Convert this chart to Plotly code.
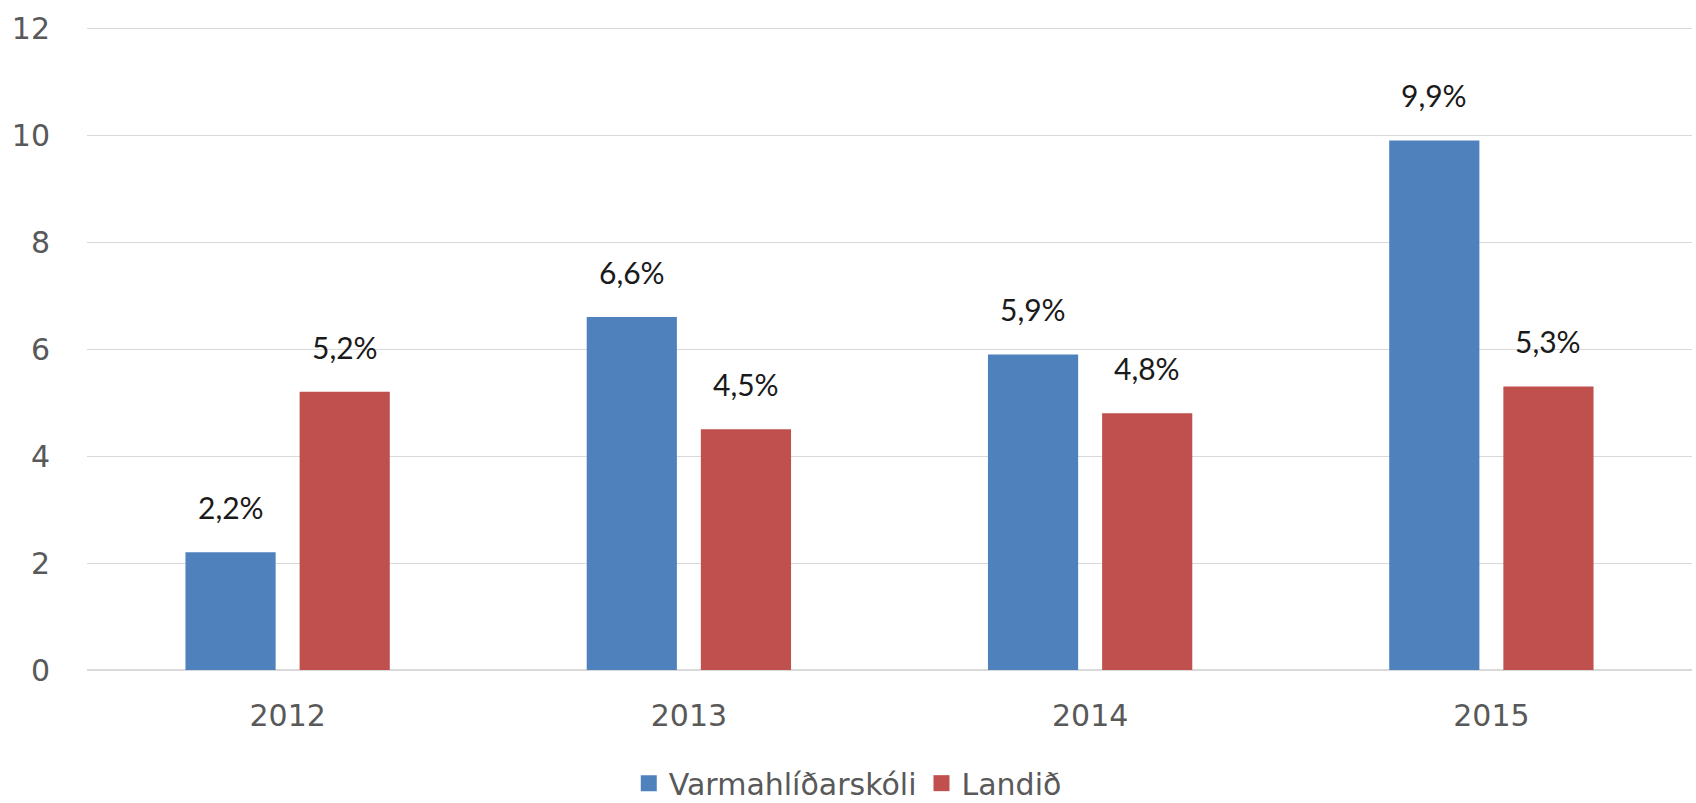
import plotly.graph_objects as go

years = ["2012", "2013", "2014", "2015"]
varmahlid = [2.2, 6.6, 5.9, 9.9]
landid = [5.2, 4.5, 4.8, 5.3]
series_names = ["Varmahlíðarskóli", "Landið"]
y_ticks = [0, 2, 4, 6, 8, 10, 12]

BLUE = "#4F81BD"
RED = "#C0504D"

fig = go.Figure()
fig.add_trace(go.Bar(x=years, y=varmahlid, name=series_names[0], showlegend=False,
                     marker=dict(color=BLUE, line=dict(width=0))))
fig.add_trace(go.Bar(x=years, y=landid, name=series_names[1], showlegend=False,
                     marker=dict(color=RED, line=dict(width=0))))
# legend entries with larger square swatches
for name, col in ((series_names[0], BLUE), (series_names[1], RED)):
    fig.add_trace(go.Scatter(x=[None], y=[None], mode="markers", name=name,
                             marker=dict(symbol="square", size=20, color=col),
                             hoverinfo="skip"))

def fmt(v):
    return f"{v:.1f}".replace(".", ",") + "%"

annotations = []
for vals, shift in ((varmahlid, -57), (landid, 57)):
    for i, v in enumerate(vals):
        annotations.append(dict(
            x=i, y=v, xref="x", yref="y", text=fmt(v), showarrow=False,
            xshift=shift, yshift=45, yanchor="middle",
            font=dict(family="Lato, Noto Sans, sans-serif", size=30, color="#1a1a1a")))

fig.update_layout(
    width=1696, height=803,
    margin=dict(l=87, r=4, t=27, b=133, autoexpand=False),
    plot_bgcolor="white", paper_bgcolor="white",
    barmode="group", bargap=0.431, bargroupgap=0.21,
    font=dict(family="DejaVu Sans, sans-serif", size=30, color="#595959"),
    xaxis=dict(type="category", categoryorder="array", categoryarray=years,
               range=[-0.5, len(years) - 0.5], showgrid=False,
               showline=False, zeroline=False, ticks="", automargin=False,
               tickfont=dict(size=30, color="#595959"), ticklabelstandoff=25),
    yaxis=dict(range=[0, 12.02], tickvals=y_ticks, showgrid=True, gridcolor="#D9D9D9",
               gridwidth=1.3, zeroline=True, zerolinecolor="#D9D9D9", zerolinewidth=1.5,
               showline=False, ticks="", tickfont=dict(size=30, color="#595959"),
               ticklabelstandoff=36, automargin=False),
    showlegend=True,
    legend=dict(orientation="h", xref="paper", yref="paper",
                x=0.474, xanchor="center", y=-0.176, yanchor="middle",
                font=dict(size=30, color="#595959"), itemwidth=30,
                traceorder="normal"),
    annotations=annotations,
)

fig.write_html("out.html", config={"displayModeBar": False})

with open("out.html", "r", encoding="utf-8") as f:
    html = f.read()
html = html.replace("<head>", "<head><style>html,body{margin:0;padding:0;overflow:hidden;}</style>", 1)
with open("out.html", "w", encoding="utf-8") as f:
    f.write(html)
